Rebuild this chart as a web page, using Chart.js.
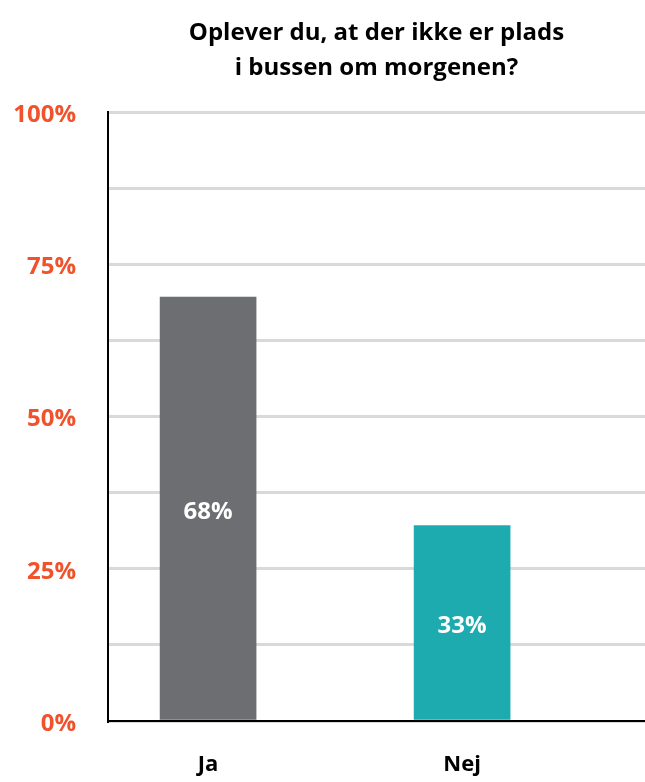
<!DOCTYPE html>
<html>
<head>
<meta charset="utf-8">
<script src="https://cdn.jsdelivr.net/npm/chart.js@4"></script>
<style>
  body { margin: 0; background: #fff; }
  #wrap { width: 645px; height: 782px; }
</style>
</head>
<body>
<div id="wrap"><canvas id="busChart" width="645" height="782"></canvas></div>
<script>
// Answers and bar heights (in %)
var answers = ["Ja", "Nej"];
var shares = [69.6, 32.1];
var shareLabels = ["68%", "33%"];
var barColors = ["#6d6e71", "#1eabb0"];

var yTicks = [0, 25, 50, 75, 100];

// draws the percentage text in the middle of each bar
var barText = {
    id: 'barText',
    afterDatasetsDraw: function (chart) {
        var ctx = chart.ctx;
        var meta = chart.getDatasetMeta(0);
        ctx.save();
        ctx.fillStyle = "#ffffff";
        ctx.font = "bold 24px 'Open Sans'";
        ctx.textAlign = "center";
        ctx.textBaseline = "middle";
        meta.data.forEach(function (bar, i) {
            ctx.fillText(shareLabels[i], bar.x, (bar.y + bar.base) / 2 + 4);
        });
        ctx.restore();
    }
};

var ctx = document.getElementById("busChart");

var busChart = new Chart(ctx, {
    type: 'bar',
    data: {
        datasets: [{
            data: answers.map(function (a, i) { return { x: i, y: shares[i] }; }),
            backgroundColor: barColors,
            barThickness: 96
        }]
    },
    options: {
        responsive: false,
        animation: false,
        layout: { padding: { left: 12, right: 0, top: 0, bottom: 2 } },
        plugins: {
            legend: { display: false },
            tooltip: { enabled: false },
            title: {
                display: true,
                fullSize: false,
                text: ["Oplever du, at der ikke er plads", "i bussen om morgenen?"],
                color: "#000",
                font: { family: "'Open Sans'", size: 24, weight: 'bold', lineHeight: 1.46 },
                padding: { top: 16, bottom: 26 }
            }
        },
        scales: {
            x: {
                type: 'linear',
                offset: false,
                min: -0.394,
                max: 1.72,
                grid: { display: false, drawTicks: false, offset: false },
                border: { color: "#000", width: 2 },
                afterBuildTicks: function (axis) {
                    axis.ticks = answers.map(function (a, i) { return { value: i }; });
                },
                afterFit: function (axis) { axis.height = 59; },
                ticks: {
                    padding: 31,
                    color: "#000",
                    font: { family: "'Open Sans'", size: 22, weight: 'bold' },
                    callback: function (v) { return answers[v]; }
                }
            },
            y: {
                min: 0,
                max: 100,
                grid: { color: "#d9d9d9", lineWidth: 3, drawTicks: false },
                border: { color: "#000", width: 2 },
                afterFit: function (axis) { axis.width = 96; },
                ticks: {
                    stepSize: 12.5,
                    padding: 32,
                    labelOffset: 3,
                    color: "#f0522b",
                    font: { family: "'Open Sans'", size: 24, weight: 'bold' },
                    callback: function (v) { return yTicks.indexOf(v) >= 0 ? v + "%" : ""; }
                }
            }
        }
    },
    plugins: [barText]
});
</script>
</body>
</html>
